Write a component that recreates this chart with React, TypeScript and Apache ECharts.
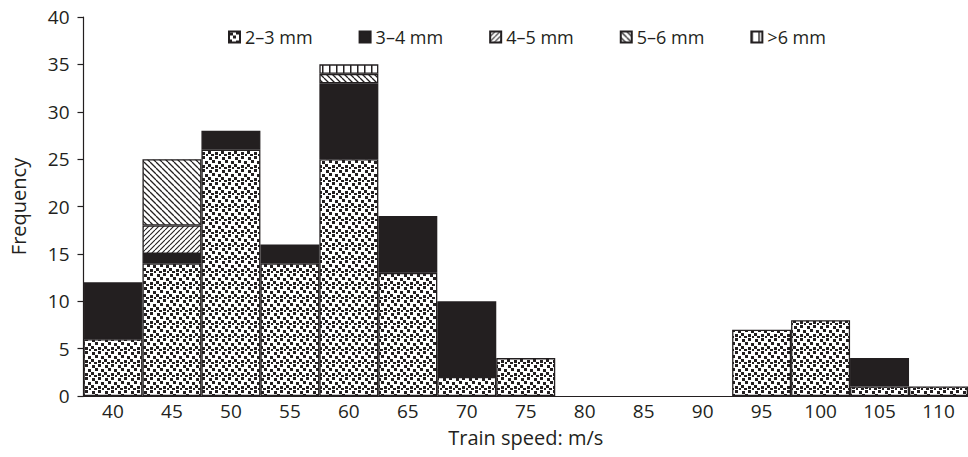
import React, { useEffect, useRef } from "react";
import * as echarts from "echarts";

const categories = ["40", "45", "50", "55", "60", "65", "70", "75", "80", "85", "90", "95", "100", "105", "110"];
const seriesNames = ["2–3 mm", "3–4 mm", "4–5 mm", "5–6 mm", ">6 mm"];
const s23 = [6, 14, 26, 14, 25, 13, 2, 4, null, null, null, 7, 8, 1, 1];
const s34 = [6, 1, 2, 2, 8, 6, 8, null, null, null, null, null, null, 3, null];
const s45 = [null, 3, null, null, null, null, null, null, null, null, null, null, null, null, null];
const s56 = [null, 7, null, null, 1, null, null, null, null, null, null, null, null, null, null];
const s6 = [null, null, null, null, 1, null, null, null, null, null, null, null, null, null, null];
const yTicks = { min: 0, max: 40, interval: 5 };

const INK = "#231f20";

function makeCanvas(size: number) {
  const c = document.createElement("canvas");
  c.width = size;
  c.height = size;
  const ctx = c.getContext("2d")!;
  ctx.fillStyle = "#ffffff";
  ctx.fillRect(0, 0, size, size);
  return { c, ctx };
}

function dotsPattern() {
  const { c, ctx } = makeCanvas(13);
  ctx.fillStyle = INK;
  const pts = [
    [1, 1], [7, 0], [4, 4], [10, 5], [0, 8], [7, 9], [3, 11], [11, 11],
  ];
  for (const [x, y] of pts) ctx.fillRect(x, y, 3, 3);
  return c;
}

function diagPattern(size: number, forward: boolean, lw: number) {
  const { c, ctx } = makeCanvas(size);
  ctx.strokeStyle = INK;
  ctx.lineWidth = lw;
  ctx.beginPath();
  for (let k = -1; k <= 1; k++) {
    if (forward) {
      ctx.moveTo(k * size, size);
      ctx.lineTo(k * size + size, 0);
    } else {
      ctx.moveTo(k * size, 0);
      ctx.lineTo(k * size + size, size);
    }
  }
  ctx.stroke();
  return c;
}

function vertPattern() {
  const { c, ctx } = makeCanvas(7);
  ctx.fillStyle = INK;
  ctx.fillRect(0, 0, 1.5, 7);
  return c;
}

export default function App() {
  const ref = useRef<HTMLDivElement>(null);
  useEffect(() => {
    if (!ref.current) return;
    const chart = echarts.init(ref.current, null, { renderer: "svg" });
    const fills: any[] = [
      { image: dotsPattern(), repeat: "repeat" },
      INK,
      { image: diagPattern(5, true, 1.1), repeat: "repeat" },
      { image: diagPattern(6, false, 1.3), repeat: "repeat" },
      { image: vertPattern(), repeat: "repeat" },
    ];
    const datas = [s23, s34, s45, s56, s6];
    const font = "'Open Sans', 'Noto Sans', sans-serif";
    chart.setOption({
      animation: false,
      textStyle: { fontFamily: font, color: INK },
      legend: {
        left: 223,
        top: 23,
        itemWidth: 11,
        itemHeight: 11,
        itemGap: 46,
        icon: "rect",
        textStyle: { fontSize: 18, color: INK, fontFamily: font },
        data: seriesNames,
      },
      grid: { left: 83.5, right: -1.5, top: 17, bottom: 61, containLabel: false },
      xAxis: {
        type: "category",
        data: categories,
        boundaryGap: true,
        name: "Train speed: m/s",
        nameLocation: "middle",
        nameGap: 31,
        nameTextStyle: { fontSize: 20, color: INK, fontFamily: font },
        axisLine: { lineStyle: { color: INK, width: 1.2 } },
        axisTick: { show: false },
        axisLabel: { fontSize: 19, color: INK, margin: 5, fontFamily: font },
      },
      yAxis: {
        type: "value",
        min: yTicks.min,
        max: yTicks.max,
        interval: yTicks.interval,
        name: "Frequency",
        nameLocation: "middle",
        nameGap: 55,
        nameTextStyle: { fontSize: 20, color: INK, fontFamily: font },
        axisLine: { show: true, lineStyle: { color: INK, width: 1.2 } },
        axisTick: { show: true, length: 6, lineStyle: { color: INK, width: 1.2 } },
        axisLabel: { fontSize: 19, color: INK, margin: 14, fontFamily: font },
        splitLine: { show: false },
      },
      series: seriesNames.map((name, i) => ({
        name,
        type: "bar",
        stack: "total",
        barWidth: "100%",
        data: datas[i],
        itemStyle: { color: fills[i], borderColor: INK, borderWidth: 1.3 },
      })),
    });
    return () => chart.dispose();
  }, []);
  return (
    <div
      ref={ref}
      style={{ position: "fixed", left: 0, top: 0, width: 968, height: 457, background: "#fff" }}
    />
  );
}
